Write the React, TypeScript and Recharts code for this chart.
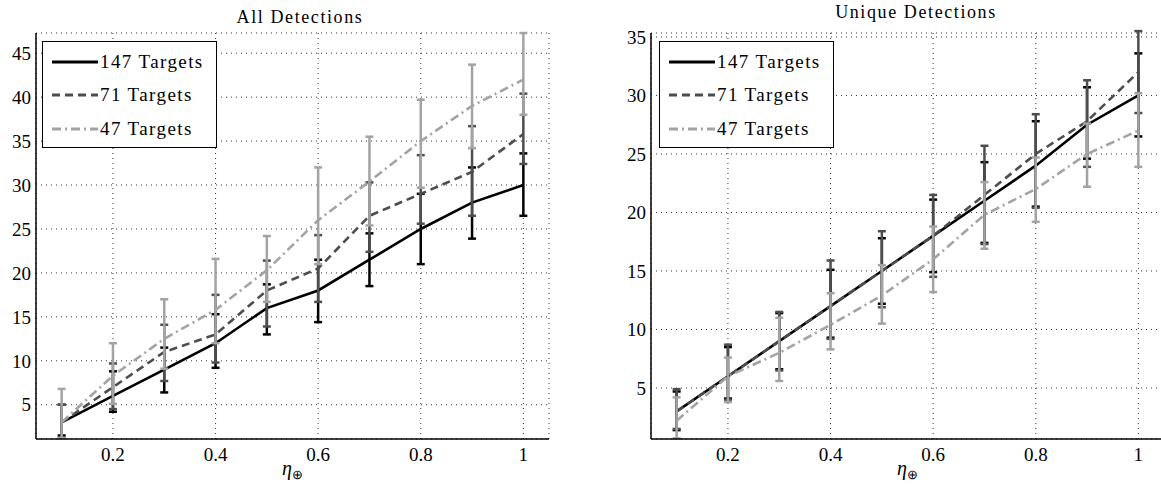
import { LineChart, Line, XAxis, YAxis, CartesianGrid, ErrorBar, Label } from "recharts";

const etaValues = [0.1, 0.2, 0.3, 0.4, 0.5, 0.6, 0.7, 0.8, 0.9, 1.0];
const xTicks = [0.2, 0.4, 0.6, 0.8, 1];

// All Detections
const allMean147 = [3, 6, 9, 12, 16, 18, 21.5, 25, 28, 30];
const allLow147 = [1.5, 4.2, 6.4, 9.2, 13, 14.4, 18.5, 21, 23.9, 26.5];
const allHigh147 = [5, 8.8, 11.5, 15.3, 18.7, 21.5, 24.5, 29, 32, 33.6];
const allMean71 = [3, 7, 11, 13, 18, 20.5, 26.5, 29, 31.5, 35.8];
const allLow71 = [1.3, 4.5, 7.7, 9.8, 13.9, 16.7, 22.4, 25.6, 26.5, 32.4];
const allHigh71 = [5, 9.7, 14.1, 17.5, 21.4, 24.3, 30.3, 33.4, 36.7, 40.4];
const allMean47 = [3, 8.3, 12.5, 15.8, 20.3, 26, 30.4, 35, 39, 42];
const allLow47 = [1.2, 5.1, 9.1, 12, 16.7, 21, 25.4, 29.7, 34.2, 38];
const allHigh47 = [6.8, 12, 17, 21.6, 24.2, 32, 35.5, 39.7, 43.7, 47.3];
const allTicks = [5, 10, 15, 20, 25, 30, 35, 40, 45];

// Unique Detections
const uniqMean147 = [3, 6, 9, 12, 15, 18, 21, 24, 27.5, 30];
const uniqLow147 = [1.4, 4.1, 6.6, 9.3, 12.2, 14.9, 17.4, 20.5, 24.6, 26.5];
const uniqHigh147 = [4.7, 8.5, 11.4, 15.1, 17.8, 21.1, 24.3, 27.8, 30.7, 33.6];
const uniqMean71 = [3, 6, 9, 12, 15, 18, 21.5, 25, 27.8, 32];
const uniqLow71 = [1.5, 4.0, 6.5, 9.2, 11.9, 14.5, 17.3, 20.4, 23.9, 28.5];
const uniqHigh71 = [4.9, 8.7, 11.5, 15.9, 18.4, 21.5, 25.7, 28.4, 31.3, 35.5];
const uniqMean47 = [2.2, 6, 8, 10.4, 12.9, 16, 19.8, 22, 25, 27];
const uniqLow47 = [0.7, 3.8, 5.6, 8.3, 10.5, 13.2, 16.9, 19.2, 22.2, 23.9];
const uniqHigh47 = [4.2, 7.6, 11, 13.1, 15.5, 18.8, 22.6, 24.7, 27.6, 30.2];
const uniqTicks = [5, 10, 15, 20, 25, 30, 35];

const seriesNames = ["147 Targets", "71 Targets", "47 Targets"];

const series = [
  { key: "s147", name: seriesNames[0], stroke: "#000000", dash: undefined as string | undefined },
  { key: "s71", name: seriesNames[1], stroke: "#4d4d4d", dash: "8 5" },
  { key: "s47", name: seriesNames[2], stroke: "#a3a3a3", dash: "9 4 2 4" },
];

function buildRows(means: number[][], lows: number[][], highs: number[][]) {
  return etaValues.map((eta, i) => {
    const row: any = { eta };
    series.forEach((s, k) => {
      row[s.key] = means[k][i];
      row[s.key + "err"] = [means[k][i] - lows[k][i], highs[k][i] - means[k][i]];
    });
    return row;
  });
}

const allRows = buildRows(
  [allMean147, allMean71, allMean47],
  [allLow147, allLow71, allLow47],
  [allHigh147, allHigh71, allHigh47]
);
const uniqRows = buildRows(
  [uniqMean147, uniqMean71, uniqMean47],
  [uniqLow147, uniqLow71, uniqLow47],
  [uniqHigh147, uniqHigh71, uniqHigh47]
);

const serif = "Liberation Serif, Times New Roman, serif";
const tickFont = { fontFamily: serif, fontSize: 19, fill: "#000" };

function LegendBox({ left }: { left: number }) {
  return (
    <div
      style={{
        position: "absolute",
        left,
        top: 41,
        border: "1.5px solid #000",
        background: "#fff",
        width: 175,
        height: 107,
        boxSizing: "border-box",
        paddingTop: 3,
      }}
    >
      {series.map((s) => (
        <div key={s.key} style={{ display: "flex", alignItems: "center", height: 33.5, whiteSpace: "nowrap" }}>
          <svg width={57} height={10} style={{ flex: "none" }}>
            <line x1={9} y1={5} x2={55} y2={5} stroke={s.stroke} strokeWidth={2.8} strokeDasharray={s.dash} />
          </svg>
          <span style={{ fontFamily: serif, fontSize: 19, letterSpacing: 1.4, color: "#000" }}>{s.name}</span>
        </div>
      ))}
    </div>
  );
}

function EtaLabel(props: any) {
  const vb = props.viewBox;
  return (
    <text x={vb.x + vb.width / 2} y={475} textAnchor="middle" fontFamily={serif} fill="#000">
      <tspan fontStyle="italic" fontSize={20}>η</tspan>
      <tspan fontSize={13} dy={4}>⊕</tspan>
    </text>
  );
}

function Panel({ rows, domain, ticks, width, right }: { rows: any[]; domain: number[]; ticks: number[]; width: number; right: number }) {
  return (
    <LineChart width={width} height={484} data={rows} margin={{ top: 33, right, bottom: 0, left: 0 }}>
      <CartesianGrid stroke="#000" strokeDasharray="1 4" strokeWidth={0.8} />
      <XAxis
        dataKey="eta"
        type="number"
        domain={[0.05, 1.05]}
        ticks={xTicks}
        allowDataOverflow
        height={45}
        tickSize={0}
        tickMargin={9}
        tick={tickFont}
        axisLine={{ stroke: "#000", strokeWidth: 1.5 }}
      >
        <Label content={EtaLabel} />
      </XAxis>
      <XAxis xAxisId="top" orientation="top" type="number" domain={[0.05, 1.05]} height={0} tick={false} tickLine={false} axisLine={{ stroke: "#000", strokeWidth: 1.5 }} />
      <YAxis
        type="number"
        domain={domain}
        ticks={ticks}
        allowDataOverflow
        width={36}
        tickSize={0}
        tickMargin={5}
        tick={tickFont}
        axisLine={{ stroke: "#000", strokeWidth: 1.5 }}
      />
      <YAxis yAxisId="right" orientation="right" type="number" domain={domain} width={0} tick={false} tickLine={false} axisLine={{ stroke: "#000", strokeWidth: 1.5 }} />
      {series.map((s) => (
        <Line
          key={s.key}
          dataKey={s.key}
          name={s.name}
          stroke={s.stroke}
          strokeWidth={2.6}
          strokeDasharray={s.dash}
          dot={false}
          isAnimationActive={false}
        >
          <ErrorBar dataKey={s.key + "err"} direction="y" width={4} stroke={s.stroke} strokeWidth={2.5} isAnimationActive={false} />
        </Line>
      ))}
    </LineChart>
  );
}

export default function App() {
  return (
    <div style={{ position: "absolute", left: 0, top: 0, width: 1161, height: 484, overflow: "hidden", background: "#fff" }}>
      <div style={{ position: "absolute", left: 0, top: 0 }}>
        <Panel rows={allRows} domain={[1.1, 47.3]} ticks={allTicks} width={580} right={31} />
      </div>
      <div style={{ position: "absolute", left: 615, top: 0 }}>
        <Panel rows={uniqRows} domain={[0.64, 35.34]} ticks={uniqTicks} width={560} right={11} />
      </div>
      <LegendBox left={42} />
      <LegendBox left={659} />
      <svg width={1161} height={484} style={{ position: "absolute", left: 0, top: 0, pointerEvents: "none" }}>
        <text x={300} y={22.5} textAnchor="middle" fontFamily={serif} fontSize={18} letterSpacing={1.6} fill="#000">
          All Detections
        </text>
        <text x={916} y={18.3} textAnchor="middle" fontFamily={serif} fontSize={18} letterSpacing={1.6} fill="#000">
          Unique Detections
        </text>
      </svg>
    </div>
  );
}
